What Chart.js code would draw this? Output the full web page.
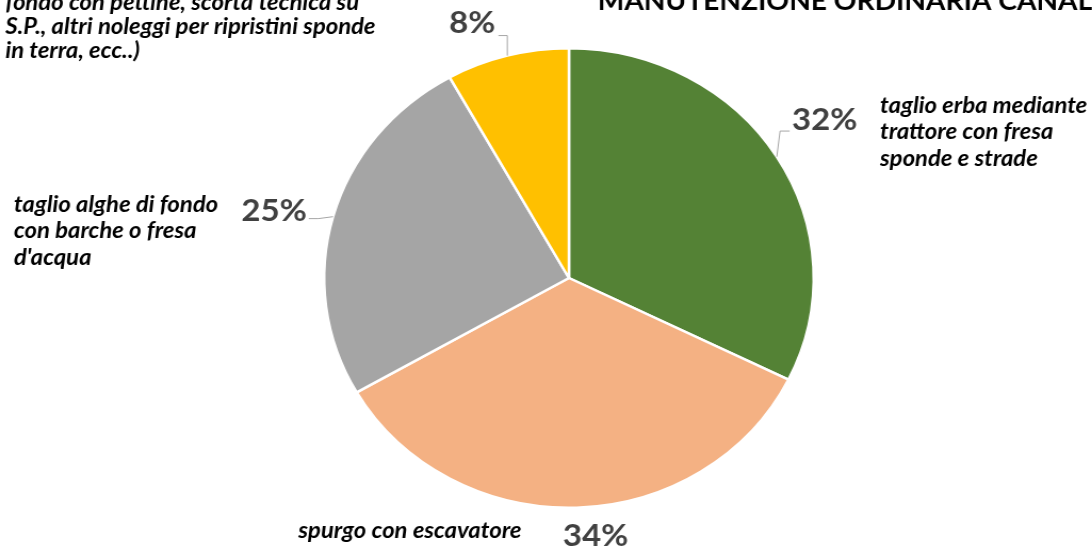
<!DOCTYPE html>
<html>
<head>
<meta charset="utf-8">
<script src="https://cdn.jsdelivr.net/npm/chart.js@4.4.1/dist/chart.umd.min.js"></script>
<style>
  html, body { margin: 0; padding: 0; background: #fff; overflow: hidden; }
  /* the reference picture is stretched a little sideways */
  #wrap { width: 1025px; height: 547px; transform: scaleX(1.0654); transform-origin: 0 0; }
  #pie { display: block; }
</style>
</head>
<body>
<div id="wrap"><canvas id="pie" width="1025" height="547"></canvas></div>
<script>
const TITLE = 'MANUTENZIONE ORDINARIA CANALI';

const categories = [
  ['taglio erba mediante', 'trattore con fresa', 'sponde e strade'],
  ['spurgo con escavatore'],
  ['taglio alghe di fondo', 'con barche o fresa', "d'acqua"],
  ['fondo con pettine, scorta tecnica su', 'S.P., altri noleggi per ripristini sponde', 'in terra, ecc..)'],
];
const values = [32.3, 34.4, 25.2, 8.1];
const sliceColours = ['#548235', '#F4B183', '#A5A5A5', '#FFC000'];

// where the percentage and the category text go, per slice
const labelStyle = [
  { dist: 1.25, nudge: -1.5, leader: 'left',  textX: 826, base: 113, lh: 26.3 },
  { dist: 1.13, nudge: -3.7, leader: null,    textX: 280, base: 538, lh: 26 },
  { dist: 1.24, nudge: -1.8, leader: 'right', textX: 13,  base: 212, lh: 26.3 },
  { dist: 1.18, nudge: -5,   leader: 'up',    textX: 5,   base: 10,  lh: 23.8 },
];

const PCT_FONT = 'bold 31px Lato';
const CAT_FONT = 'italic bold 22.4px Lato';

const pieLabels = {
  id: 'pieLabels',
  afterDatasetsDraw(chart) {
    const { ctx } = chart;
    const arcs = chart.getDatasetMeta(0).data;
    arcs.forEach((arc, i) => {
      const st = labelStyle[i];
      const mid = (arc.startAngle + arc.endAngle) / 2;
      const r = arc.outerRadius;
      const a = mid + st.nudge * Math.PI / 180;
      const cx = arc.x + Math.cos(a) * r * st.dist;
      const cy = arc.y + Math.sin(a) * r * st.dist;
      const txt = Math.round(values[i]) + '%';

      ctx.save();
      ctx.font = PCT_FONT;
      const w = ctx.measureText(txt).width;
      ctx.fillStyle = '#404040';
      ctx.textAlign = 'center';
      ctx.textBaseline = 'middle';
      ctx.fillText(txt, cx, cy);

      // leader line
      if (st.leader) {
        const p0x = arc.x + Math.cos(mid) * r;
        const p0y = arc.y + Math.sin(mid) * r;
        let hx, hy, ex;
        if (st.leader === 'left') { hx = cx - w / 2 - 2; hy = cy + 11; ex = hx - 9; }
        else if (st.leader === 'right') { hx = cx + w / 2 + 2; hy = cy + 8; ex = hx + 9; }
        else { hx = cx + w / 2 + 3; hy = cy + 13; ex = p0x; }
        ctx.strokeStyle = '#A6A6A6';
        ctx.lineWidth = 1;
        ctx.beginPath();
        ctx.moveTo(p0x, p0y);
        ctx.lineTo(ex, hy);
        ctx.lineTo(hx, hy);
        ctx.stroke();
      }

      // category text
      ctx.font = CAT_FONT;
      ctx.fillStyle = '#000';
      ctx.textAlign = 'left';
      ctx.textBaseline = 'alphabetic';
      categories[i].forEach((line, k) => ctx.fillText(line, st.textX, st.base + k * st.lh));
      ctx.restore();
    });

    ctx.save();
    ctx.font = 'bold 26.4px Lato';
    ctx.fillStyle = '#000';
    ctx.textAlign = 'left';
    ctx.textBaseline = 'alphabetic';
    ctx.fillText(TITLE, 561, 10);
    ctx.restore();
  }
};

new Chart(document.getElementById('pie'), {
  type: 'pie',
  data: {
    labels: categories.map(c => c.join(' ')),
    datasets: [{
      data: values,
      backgroundColor: sliceColours,
      borderColor: '#fff',
      borderWidth: 2.5,
    }]
  },
  options: {
    responsive: false,
    animation: false,
    layout: { padding: { top: 47, bottom: 38, left: 300, right: 257 } },
    plugins: {
      legend: { display: false },
      tooltip: { enabled: false },
    }
  },
  plugins: [pieLabels]
});
</script>
</body>
</html>
